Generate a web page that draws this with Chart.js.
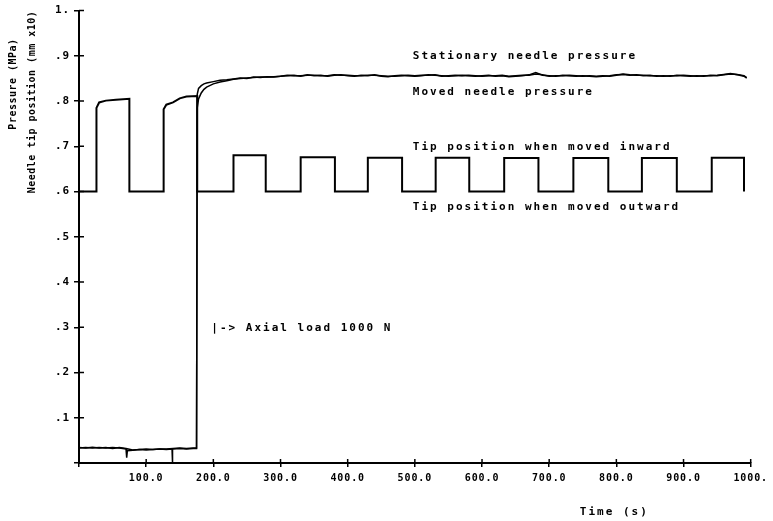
<!DOCTYPE html>
<html>
<head>
<meta charset="utf-8">
<script src="https://cdn.jsdelivr.net/npm/chart.js@4.4.1/dist/chart.umd.min.js"></script>
<style>
  html, body { margin: 0; padding: 0; background: #fff; }
</style>
</head>
<body>
<canvas id="grafico" width="773" height="521"></canvas>
<script>
// ===== Data =====
const xTickLabels = ['', '100.0', '200.0', '300.0', '400.0', '500.0', '600.0', '700.0', '800.0', '900.0', '1000.'];
const yTickLabels = ['', '.1', '.2', '.3', '.4', '.5', '.6', '.7', '.8', '.9', '1.'];

// tip position (mm x10), square steps
const tipTime = [0, 26, 26, 30, 40, 55, 75, 75,
  126, 126, 130, 140, 150, 160, 176, 176,
  230, 230, 278, 278, 330, 330, 381, 381, 430, 430, 481, 481,
  531, 531, 581, 581, 633, 633, 684, 684, 736, 736, 788, 788,
  838, 838, 890, 890, 942, 942, 990, 990];
const tipPos = [0.600, 0.600, 0.785, 0.797, 0.801, 0.803, 0.805, 0.600,
  0.600, 0.782, 0.792, 0.797, 0.806, 0.810, 0.811, 0.600,
  0.600, 0.680, 0.680, 0.600, 0.600, 0.676, 0.676, 0.600, 0.600, 0.675, 0.675, 0.600,
  0.600, 0.675, 0.675, 0.600, 0.600, 0.674, 0.674, 0.600, 0.600, 0.674, 0.674, 0.600,
  0.600, 0.674, 0.674, 0.600, 0.600, 0.675, 0.675, 0.600];

// stationary needle pressure (MPa)
const stationaryTime = [0, 10, 20, 30, 40, 50, 60, 70, 80, 90, 100, 110, 120, 130, 140, 150, 160, 170,
  175, 176, 178, 182, 186, 190,
  200, 210, 220, 230, 240, 250, 260, 270, 280, 290, 300,
  310, 320, 330, 340, 350, 360, 370, 380, 390, 400,
  410, 420, 430, 440, 450, 460, 470, 480, 490, 500,
  510, 520, 530, 540, 550, 560, 570, 580, 590, 600,
  610, 620, 630, 640, 650, 660, 670, 680, 690, 700,
  710, 720, 730, 740, 750, 760, 770, 780, 790, 800,
  810, 820, 830, 840, 850, 860, 870, 880, 890, 900,
  910, 920, 930, 940, 950, 960, 970, 980, 990, 994];
const stationaryP = [.034, .033, .035, .033, .034, .032, .034, .032, .029, .030, .031, .030, .031, .031, .032, .033, .032, .033,
  .033, .815, .828, .834, .838, .840,
  .843, .846, .847, .849, .851, .850, .853, .852, .854, .853, .855,
  .856, .857, .855, .858, .856, .857, .855, .857, .858, .856,
  .855, .857, .856, .858, .855, .854, .856, .857, .856, .855,
  .856, .858, .857, .856, .855, .856, .857, .856, .855, .856,
  .857, .855, .856, .854, .855, .856, .858, .863, .857, .856,
  .855, .857, .856, .855, .856, .855, .854, .855, .856, .858,
  .859, .857, .858, .856, .857, .855, .856, .855, .857, .856,
  .855, .856, .855, .857, .856, .858, .860, .859, .856, .852];

// moved needle pressure (MPa)
const movedTime = [0, 10, 20, 30, 40, 50, 60, 70, 71, 72, 80, 90, 100, 110, 120, 130, 138.5, 139, 139.5, 150, 160, 170,
  175, 176, 178, 182, 186, 190,
  200, 210, 220, 230, 240, 250, 260, 270, 280, 290, 300,
  310, 320, 330, 340, 350, 360, 370, 380, 390, 400,
  410, 420, 430, 440, 450, 460, 470, 480, 490, 500,
  510, 520, 530, 540, 550, 560, 570, 580, 590, 600,
  610, 620, 630, 640, 650, 660, 670, 680, 690, 700,
  710, 720, 730, 740, 750, 760, 770, 780, 790, 800,
  810, 820, 830, 840, 850, 860, 870, 880, 890, 900,
  910, 920, 930, 940, 950, 960, 970, 980, 990, 994];
const movedP = [.033, .034, .033, .034, .033, .034, .033, .031, .012, .027, .028, .030, .029, .030, .031, .030, .031, .000, .031, .032, .031, .032,
  .032, .785, .805, .818, .826, .831,
  .838, .842, .845, .848, .850, .851, .852, .853, .853, .854, .855,
  .857, .856, .856, .857, .857, .856, .856, .858, .857, .857,
  .856, .856, .857, .857, .856, .855, .855, .856, .857, .856,
  .857, .857, .858, .855, .856, .857, .856, .857, .856, .855,
  .856, .856, .857, .855, .856, .857, .857, .860, .858, .855,
  .856, .856, .857, .856, .855, .856, .855, .856, .855, .857,
  .860, .858, .857, .857, .856, .856, .855, .856, .856, .857,
  .856, .855, .856, .856, .857, .859, .861, .858, .855, .851];

const FONT = '"DejaVu Sans Mono", "Liberation Mono", monospace';

// ===== Utils =====
function pontos(xs, ys) {
  return xs.map((x, i) => ({ x, y: ys[i] }));
}

// ===== Plugins =====
// plotter-style spacing between characters
const espacamento = {
  id: 'espacamento',
  beforeUpdate(chart) { chart.ctx.letterSpacing = '0.9px'; },
  beforeDraw(chart) { chart.ctx.letterSpacing = '0.9px'; }
};

// tick marks that cross the axis lines
const ticksInternos = {
  id: 'ticksInternos',
  afterDraw(chart) {
    const { ctx, chartArea, scales: { x, y } } = chart;
    ctx.save();
    ctx.strokeStyle = '#000';
    ctx.lineWidth = 1.5;
    ctx.beginPath();
    x.ticks.forEach((t, i) => {
      const px = x.getPixelForTick(i);
      ctx.moveTo(px, chartArea.bottom);
      ctx.lineTo(px, chartArea.bottom - 4);
    });
    y.ticks.forEach((t, i) => {
      const py = y.getPixelForTick(i);
      ctx.moveTo(chartArea.left, py);
      ctx.lineTo(chartArea.left + 5, py);
    });
    ctx.stroke();
    ctx.restore();
  }
};

// curve labels, axis titles and the load note
const textos = {
  id: 'textos',
  afterDraw(chart) {
    const { ctx, chartArea, scales: { x, y } } = chart;
    ctx.save();
    ctx.fillStyle = '#000';
    ctx.textBaseline = 'middle';
    ctx.textAlign = 'left';
    ctx.font = 'bold 11px ' + FONT;
    ctx.letterSpacing = '2px';

    const lx = x.getPixelForValue(497);
    ctx.fillText('Stationary needle pressure', lx, y.getPixelForValue(0.899));
    ctx.fillText('Moved needle pressure', lx, y.getPixelForValue(0.819));
    ctx.fillText('Tip position when moved inward', lx, y.getPixelForValue(0.698));
    ctx.fillText('Tip position when moved outward', lx, y.getPixelForValue(0.565));
    ctx.fillText('|-> Axial load 1000 N', x.getPixelForValue(197), y.getPixelForValue(0.298));

    ctx.textAlign = 'center';
    ctx.fillText('Time (s)', x.getPixelForValue(797), chartArea.bottom + 49);

    ctx.font = 'bold 10px ' + FONT;
    ctx.letterSpacing = '0.5px';
    ctx.translate(chartArea.left - 66, 84);
    ctx.rotate(-Math.PI / 2);
    ctx.fillText('Pressure (MPa)', 0, 0);
    ctx.restore();

    ctx.save();
    ctx.fillStyle = '#000';
    ctx.textBaseline = 'middle';
    ctx.textAlign = 'center';
    ctx.font = 'bold 10px ' + FONT;
    ctx.letterSpacing = '0.5px';
    ctx.translate(chartArea.left - 47, 102);
    ctx.rotate(-Math.PI / 2);
    ctx.fillText('Needle tip position (mm x10)', 0, 0);
    ctx.restore();
  }
};

// ===== Chart =====
function criarGrafico() {
  const linha = (label, data, width) => ({
    label,
    data,
    borderColor: '#000',
    borderWidth: width,
    pointRadius: 0,
    tension: 0,
    fill: false
  });

  return new Chart(document.getElementById('grafico'), {
    type: 'line',
    data: {
      datasets: [
        linha('Stationary needle pressure', pontos(stationaryTime, stationaryP), 1.5),
        linha('Moved needle pressure', pontos(movedTime, movedP), 1.5),
        linha('Tip position', pontos(tipTime, tipPos), 2)
      ]
    },
    options: {
      responsive: false,
      devicePixelRatio: 1,
      animation: false,
      layout: { padding: { top: 9, right: 20, left: 0, bottom: 0 } },
      plugins: {
        legend: { display: false },
        tooltip: { enabled: false }
      },
      scales: {
        x: {
          type: 'linear',
          min: 0,
          max: 1000,
          afterFit: (s) => { s.height = 58; },
          border: { color: '#000', width: 2 },
          grid: { drawOnChartArea: false, color: '#000', lineWidth: 1.5, tickLength: 4 },
          ticks: {
            stepSize: 100,
            maxRotation: 0,
            autoSkip: false,
            padding: 5,
            color: '#000',
            font: { family: FONT, size: 10, weight: 'bold' },
            callback: (v, i) => xTickLabels[i]
          }
        },
        y: {
          min: 0,
          max: 1,
          afterFit: (s) => { s.width = 79; },
          border: { color: '#000', width: 2 },
          grid: { drawOnChartArea: false, color: '#000', lineWidth: 1.5, tickLength: 5 },
          ticks: {
            stepSize: 0.1,
            autoSkip: false,
            padding: 4,
            color: '#000',
            font: { family: FONT, size: 11, weight: 'bold' },
            callback: (v, i) => yTickLabels[i]
          }
        }
      }
    },
    plugins: [espacamento, ticksInternos, textos]
  });
}

criarGrafico();
</script>
</body>
</html>
